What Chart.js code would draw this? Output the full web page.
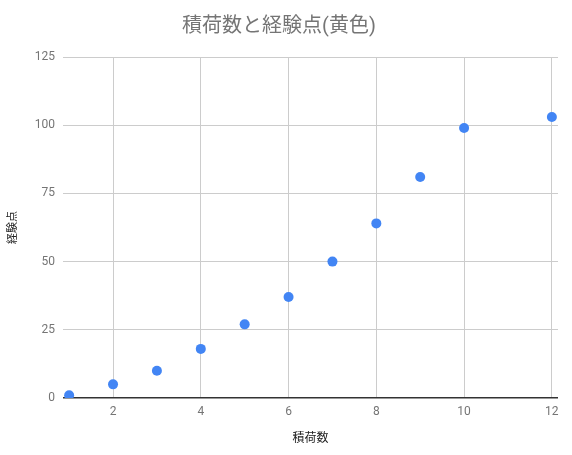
<!DOCTYPE html>
<html>
<head>
<meta charset="utf-8">
<script src="https://cdn.jsdelivr.net/npm/chart.js@4"></script>
<style>
html,body{margin:0;padding:0;background:#fff;}
#wrap{width:572px;height:455px;}
</style>
</head>
<body>
<div id="wrap"><canvas id="c" width="572" height="455"></canvas></div>
<script>
const chartTitle = '積荷数と経験点(黄色)';
const xTitle = '積荷数';
const yTitle = '経験点';
const xValues = [1, 2, 3, 4, 5, 6, 7, 8, 9, 10, 12];
const yValues = [1, 5, 10, 18, 27, 37, 50, 64, 81, 99, 103];
const xTicks = [2, 4, 6, 8, 10, 12];
const yTicks = [0, 25, 50, 75, 100, 125];

const FONT = "Roboto, 'Noto Sans CJK JP', sans-serif";
const points = xValues.map((x, i) => ({x: x, y: yValues[i]}));

new Chart(document.getElementById('c'), {
  type: 'scatter',
  data: {
    datasets: [{
      data: points,
      backgroundColor: '#4285F4',
      borderColor: '#4285F4',
      pointRadius: 5,
      pointHoverRadius: 5,
      borderWidth: 0
    }]
  },
  options: {
    responsive: false,
    animation: false,
    devicePixelRatio: 1,
    layout: {padding: {left: 0, right: 14, top: 0, bottom: 0}},
    plugins: {
      legend: {display: false},
      tooltip: {enabled: false},
      title: {
        display: true,
        text: chartTitle,
        color: '#757575',
        font: {family: FONT, size: 20, weight: 'normal'},
        padding: {top: 15, bottom: 18}
      }
    },
    scales: {
      x: {
        type: 'linear',
        min: 0.86,
        max: 12.14,
        afterBuildTicks: s => { s.ticks = xTicks.map(v => ({value: v})); },
        afterFit: s => { s.height = 57; },
        border: {display: false},
        grid: {color: '#cccccc', lineWidth: 1, drawTicks: false},
        ticks: {color: '#757575', font: {family: FONT, size: 12}, padding: 7, maxRotation: 0},
        title: {display: true, text: xTitle, color: '#222222', font: {family: FONT, size: 12}, padding: {top: 4, bottom: 9}}
      },
      y: {
        type: 'linear',
        min: 0,
        max: 125,
        afterBuildTicks: s => { s.ticks = yTicks.map(v => ({value: v})); },
        afterFit: s => { s.width = 63; },
        border: {display: false},
        grid: {
          color: c => (c.tick && c.tick.value === 0) ? '#333333' : '#cccccc',
          lineWidth: c => (c.tick && c.tick.value === 0) ? 1.5 : 1,
          drawTicks: false
        },
        ticks: {color: '#757575', font: {family: FONT, size: 12}, padding: 8},
        title: {display: true, text: yTitle, color: '#222222', font: {family: FONT, size: 11}, padding: {top: 7, bottom: 0}}
      }
    }
  }
});
</script>
</body>
</html>
